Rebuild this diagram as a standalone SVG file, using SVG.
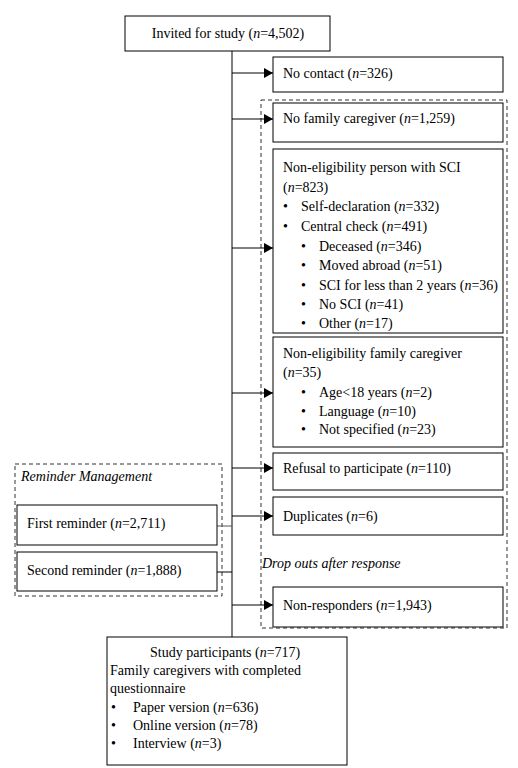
<svg xmlns="http://www.w3.org/2000/svg" width="518" height="768" viewBox="0 0 518 768">
<style>
text{font-family:"Liberation Serif","Times New Roman",serif;font-size:14px;fill:#000}
.i{font-style:italic}
.b{fill:#fff;stroke:#000;stroke-width:1}
.d{fill:none;stroke:#333;stroke-width:1;stroke-dasharray:4,3}
.c{fill:none;stroke:#000;stroke-width:1}
.g{fill:none;stroke:#555;stroke-width:1}
</style>
<defs>
<marker id="ah" markerWidth="10" markerHeight="10" refX="9" refY="5" orient="auto" markerUnits="userSpaceOnUse">
<path d="M0,0 L9,5 L0,10 Z" fill="#000"/>
</marker>
</defs>
<rect x="0" y="0" width="518" height="768" fill="#fff"/>
<g id="groups">
<rect class="d" x="261" y="100" width="246" height="528"/>
<rect class="d" x="15" y="464" width="207" height="132"/>
<text class="i" x="21" y="481">Reminder Management</text>
<text class="i" x="262" y="568">Drop outs after response</text>
</g>
<g id="connectors">
<line class="c" x1="232" y1="51" x2="232" y2="637"/>
<line class="c" x1="232" y1="73" x2="273" y2="73" marker-end="url(#ah)"/>
<line class="c" x1="232" y1="119" x2="273" y2="119" marker-end="url(#ah)"/>
<line class="c" x1="232" y1="248" x2="273" y2="248" marker-end="url(#ah)"/>
<line class="c" x1="232" y1="393" x2="273" y2="393" marker-end="url(#ah)"/>
<line class="c" x1="232" y1="468" x2="273" y2="468" marker-end="url(#ah)"/>
<line class="c" x1="232" y1="516" x2="273" y2="516" marker-end="url(#ah)"/>
<line class="c" x1="232" y1="605" x2="273" y2="605" marker-end="url(#ah)"/>
<line class="g" x1="217" y1="526" x2="232" y2="526"/>
<line class="c" x1="217" y1="572" x2="232" y2="572"/>
</g>
<g id="invited">
<rect class="b" x="125" y="16" width="205" height="35"/>
<text x="228" y="38" text-anchor="middle">Invited for study (<tspan class="i">n</tspan>=4,502)</text>
</g>
<g id="nocontact">
<rect class="b" x="273" y="57" width="230" height="35"/>
<text x="283" y="78">No contact (<tspan class="i">n</tspan>=326)</text>
</g>
<g id="nofamily">
<rect class="b" x="273" y="103" width="230" height="39"/>
<text x="283" y="123">No family caregiver (<tspan class="i">n</tspan>=1,259)</text>
</g>
<g id="nonelig-sci">
<rect class="b" x="273" y="149" width="230" height="184"/>
<text x="283" y="172">Non-eligibility person with SCI</text>
<text x="283" y="192">(<tspan class="i">n</tspan>=823)</text>
<text x="283" y="211">•</text><text x="301" y="211">Self-declaration (<tspan class="i">n</tspan>=332)</text>
<text x="283" y="231">•</text><text x="301" y="231">Central check (<tspan class="i">n</tspan>=491)</text>
<text x="301" y="251">•</text><text x="319" y="251">Deceased (<tspan class="i">n</tspan>=346)</text>
<text x="301" y="270">•</text><text x="319" y="270">Moved abroad (<tspan class="i">n</tspan>=51)</text>
<text x="301" y="290">•</text><text x="319" y="290">SCI for less than 2 years (<tspan class="i">n</tspan>=36)</text>
<text x="301" y="309">•</text><text x="319" y="309">No SCI (<tspan class="i">n</tspan>=41)</text>
<text x="301" y="328">•</text><text x="319" y="328">Other (<tspan class="i">n</tspan>=17)</text>
</g>
<g id="nonelig-fc">
<rect class="b" x="273" y="337" width="230" height="110"/>
<text x="283" y="358">Non-eligibility family caregiver</text>
<text x="283" y="377">(<tspan class="i">n</tspan>=35)</text>
<text x="301" y="397">•</text><text x="319" y="397">Age&lt;18 years (<tspan class="i">n</tspan>=2)</text>
<text x="301" y="416">•</text><text x="319" y="416">Language (<tspan class="i">n</tspan>=10)</text>
<text x="301" y="434">•</text><text x="319" y="434">Not specified (<tspan class="i">n</tspan>=23)</text>
</g>
<g id="refusal">
<rect class="b" x="273" y="453" width="230" height="37"/>
<text x="283" y="473">Refusal to participate (<tspan class="i">n</tspan>=110)</text>
</g>
<g id="duplicates">
<rect class="b" x="273" y="497" width="230" height="38"/>
<text x="283" y="521">Duplicates (<tspan class="i">n</tspan>=6)</text>
</g>
<g id="nonresponders">
<rect class="b" x="273" y="587" width="230" height="40"/>
<text x="283" y="610">Non-responders (<tspan class="i">n</tspan>=1,943)</text>
</g>
<g id="first">
<rect class="b" x="17" y="505" width="200" height="40"/>
<text x="27" y="528">First reminder (<tspan class="i">n</tspan>=2,711)</text>
</g>
<g id="second">
<rect class="b" x="17" y="552" width="200" height="39"/>
<text x="27" y="575">Second reminder (<tspan class="i">n</tspan>=1,888)</text>
</g>
<g id="participants">
<rect class="b" x="107" y="637" width="240" height="128"/>
<text x="150" y="657">Study participants (<tspan class="i">n</tspan>=717)</text>
<text x="110" y="675">Family caregivers with completed</text>
<text x="110" y="693">questionnaire</text>
<text x="111" y="712">•</text><text x="133" y="712">Paper version (<tspan class="i">n</tspan>=636)</text>
<text x="111" y="730">•</text><text x="133" y="730">Online version (<tspan class="i">n</tspan>=78)</text>
<text x="111" y="748">•</text><text x="133" y="748">Interview (<tspan class="i">n</tspan>=3)</text>
</g>
</svg>
